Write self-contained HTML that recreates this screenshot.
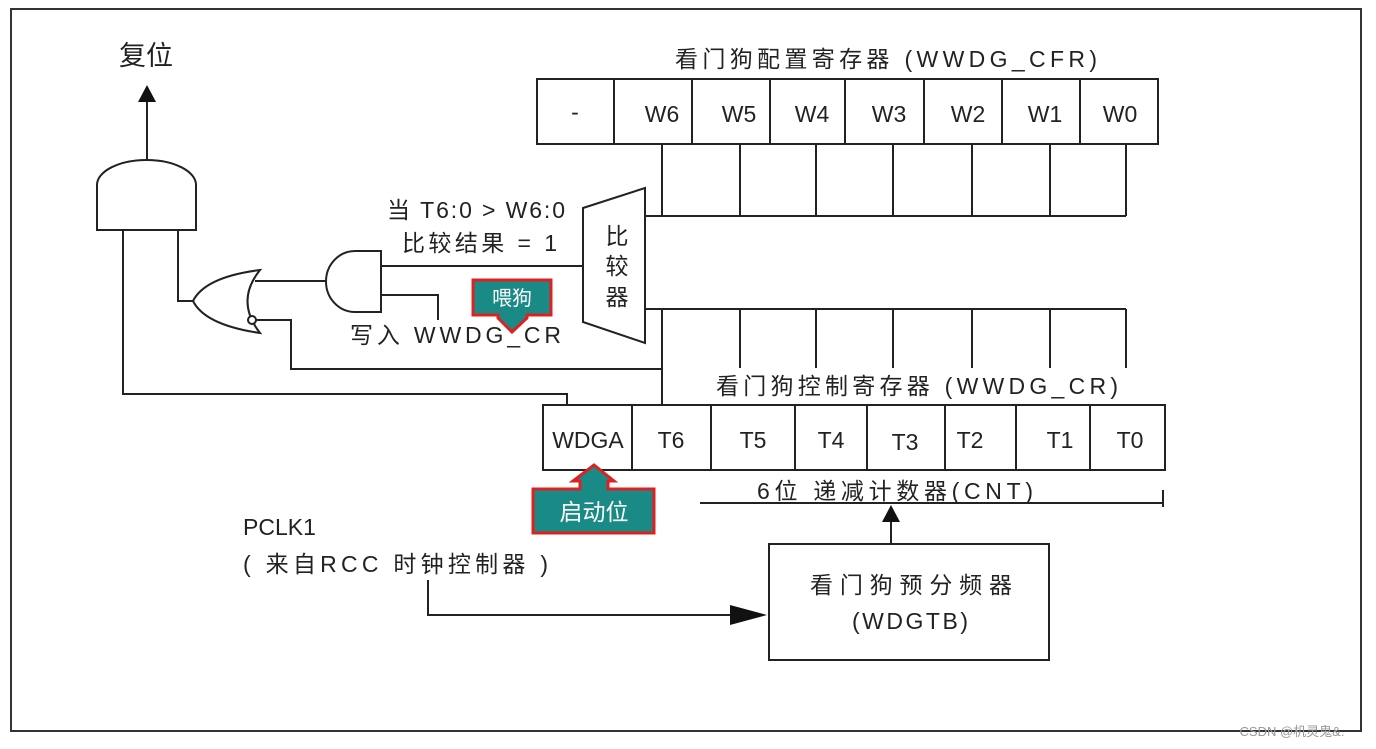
<!DOCTYPE html>
<html><head><meta charset="utf-8"><style>
html,body{margin:0;padding:0;background:#fff;}
svg{display:block;font-family:"Liberation Sans","Noto Sans CJK SC",sans-serif;}
</style></head><body>
<svg width="1376" height="749" viewBox="0 0 1376 749" xmlns="http://www.w3.org/2000/svg">
<rect x="11" y="9" width="1350" height="722" fill="#fff" stroke="#333" stroke-width="2"/>
<g stroke="#222" stroke-width="2" fill="none">
<rect x="537" y="79" width="621" height="65" fill="#fff"/>
<line x1="614" y1="79" x2="614" y2="144"/><line x1="692" y1="79" x2="692" y2="144"/>
<line x1="770" y1="79" x2="770" y2="144"/><line x1="845" y1="79" x2="845" y2="144"/>
<line x1="924" y1="79" x2="924" y2="144"/><line x1="1002" y1="79" x2="1002" y2="144"/>
<line x1="1080" y1="79" x2="1080" y2="144"/>
<line x1="662" y1="144" x2="662" y2="216"/><line x1="740" y1="144" x2="740" y2="216"/>
<line x1="816" y1="144" x2="816" y2="216"/><line x1="893" y1="144" x2="893" y2="216"/>
<line x1="972" y1="144" x2="972" y2="216"/><line x1="1050" y1="144" x2="1050" y2="216"/>
<line x1="1126" y1="144" x2="1126" y2="216"/>
<line x1="645" y1="216" x2="1126" y2="216"/>
<line x1="645" y1="309" x2="1126" y2="309"/>
<line x1="662" y1="309" x2="662" y2="405"/>
<line x1="740" y1="309" x2="740" y2="368"/><line x1="816" y1="309" x2="816" y2="368"/>
<line x1="893" y1="309" x2="893" y2="368"/><line x1="972" y1="309" x2="972" y2="368"/>
<line x1="1050" y1="309" x2="1050" y2="368"/><line x1="1126" y1="309" x2="1126" y2="368"/>
<polygon points="583,208 645,188 645,343 583,322" fill="#fff"/>
<path d="M381,251 L355,251 A29,30.5 0 0 0 355,312 L381,312 Z" fill="#fff"/>
<line x1="381" y1="266" x2="583" y2="266"/>
<polyline points="381,295 438,295 438,320"/>
<path d="M260,270 Q235,301 260,333 Q205,325 193,301 Q205,277 260,270 Z" fill="#fff"/>
<line x1="255" y1="281" x2="326" y2="281"/>
<circle cx="252" cy="320" r="4" fill="#fff"/>
<polyline points="256,320 291,320 291,369 662,369"/>
<polyline points="193,301 178,301 178,230"/>
<path d="M97,230 L97,185 A49.5,25 0 0 1 196,185 L196,230 Z" fill="#fff"/>
<line x1="147" y1="160" x2="147" y2="100"/>
<polyline points="123,230 123,394 567,394 567,405"/>
<rect x="543" y="405" width="622" height="65" fill="#fff"/>
<line x1="632" y1="405" x2="632" y2="470"/><line x1="711" y1="405" x2="711" y2="470"/>
<line x1="795" y1="405" x2="795" y2="470"/><line x1="867" y1="405" x2="867" y2="470"/>
<line x1="945" y1="405" x2="945" y2="470"/><line x1="1016" y1="405" x2="1016" y2="470"/>
<line x1="1090" y1="405" x2="1090" y2="470"/>
<line x1="700" y1="503" x2="1163" y2="503"/>
<line x1="1163" y1="490" x2="1163" y2="507"/>
<line x1="891" y1="545" x2="891" y2="520"/>
<rect x="769" y="544" width="280" height="116" fill="#fff"/>
<polyline points="428,580 428,615 735,615"/>
</g>
<g fill="#111">
<polygon points="147,85 138,102 156,102"/>
<polygon points="891,505 882,522 900,522"/>
<polygon points="767,615 730,605 730,625"/>
</g>
<g fill="#222" font-size="23" text-anchor="middle">
<text x="575" y="120">-</text>
<text x="662" y="122">W6</text><text x="739" y="122">W5</text><text x="812" y="122">W4</text>
<text x="889" y="122">W3</text><text x="968" y="122">W2</text><text x="1045" y="122">W1</text>
<text x="1120" y="122">W0</text>
<text x="588" y="448">WDGA</text><text x="671" y="448">T6</text><text x="753" y="448">T5</text>
<text x="831" y="448">T4</text><text x="905" y="450">T3</text><text x="970" y="448">T2</text>
<text x="1060" y="448">T1</text><text x="1130" y="448">T0</text>
<text x="617" y="244">比</text><text x="617" y="274">较</text><text x="617" y="305">器</text>
<text x="146" y="65" font-size="27">复位</text>
</g>
<g fill="#222" font-size="23">
<text x="675" y="67" textLength="422" lengthAdjust="spacing">看门狗配置寄存器 (WWDG_CFR)</text>
<text x="716" y="394" textLength="402" lengthAdjust="spacing">看门狗控制寄存器 (WWDG_CR)</text>
<text x="757" y="499" textLength="276" lengthAdjust="spacing">6位 递减计数器(CNT)</text>
<text x="810" y="593" textLength="202" lengthAdjust="spacing">看门狗预分频器</text>
<text x="852" y="629" textLength="116" lengthAdjust="spacing">(WDGTB)</text>
<text x="387" y="218" textLength="178" lengthAdjust="spacing">当 T6:0 &gt; W6:0</text>
<text x="402" y="251" textLength="155" lengthAdjust="spacing">比较结果 = 1</text>
<text x="350" y="343" textLength="211" lengthAdjust="spacing">写入 WWDG_CR</text>
<text x="243" y="535">PCLK1</text>
<text x="243" y="572" textLength="305" lengthAdjust="spacing">( 来自RCC 时钟控制器 )</text>
</g>
<g stroke="#e02020" stroke-width="3" fill="#1a8a86">
<path d="M473,280 L551,280 L551,315 L527,315 L527,318 L512,332 L498,318 L498,315 L473,315 Z"/>
<path d="M533,489 L580,489 L580,481 L573,481 L594,465 L614,481 L608,481 L608,489 L654,489 L654,533 L533,533 Z"/>
</g>
<g fill="#fff" font-size="20" text-anchor="middle">
<text x="512" y="305">喂狗</text>
<text x="594" y="520" font-size="23">启动位</text>
</g>
<text x="1292" y="736" font-size="13" fill="#999" text-anchor="middle">CSDN @机灵鬼&amp;.</text>
</svg>
</body></html>
